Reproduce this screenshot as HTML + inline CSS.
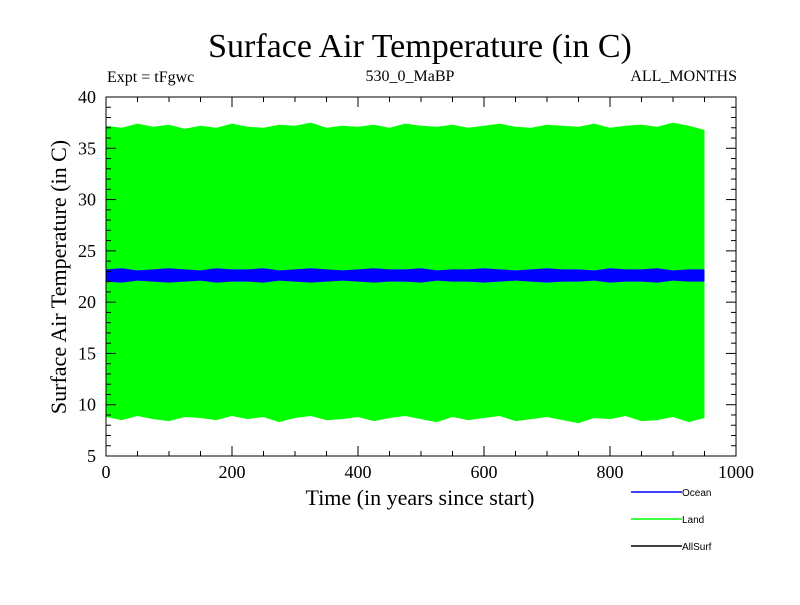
<!DOCTYPE html>
<html><head><meta charset="utf-8"><style>
body{margin:0;background:#fff;width:800px;height:600px;overflow:hidden}
svg text{font-family:"Liberation Serif",serif;fill:#000}
</style></head><body>
<svg id="chart" width="800" height="600">
<text x="420" y="57" font-size="34" text-anchor="middle">Surface Air Temperature (in C)</text>
<text x="107" y="82" font-size="16">Expt = tFgwc</text>
<text x="410" y="81" font-size="16" text-anchor="middle">530_0_MaBP</text>
<text x="737" y="81" font-size="16" text-anchor="end">ALL_MONTHS</text>
<g id="plot"></g>
<g id="axes"></g>
<text x="420" y="505" font-size="22" text-anchor="middle">Time (in years since start)</text>
<text transform="translate(66,277) rotate(-90)" font-size="22" text-anchor="middle">Surface Air Temperature (in C)</text>
<g>
<g><line x1="631" y1="492" x2="682" y2="492" stroke="#0000ff" stroke-width="1.5"/><text x="682" y="496" font-size="10" style="font-family:'Liberation Sans',sans-serif">Ocean</text></g>
<g><line x1="631" y1="519" x2="682" y2="519" stroke="#00ff00" stroke-width="1.5"/><text x="682" y="523" font-size="10" style="font-family:'Liberation Sans',sans-serif">Land</text></g>
<g><line x1="631" y1="546" x2="682" y2="546" stroke="#000" stroke-width="1.5"/><text x="682" y="550" font-size="10" style="font-family:'Liberation Sans',sans-serif">AllSurf</text></g>
</g>
</svg>
<script>
const years=[0,25,50,75,100,125,150,175,200,225,250,275,300,325,350,375,400,425,450,475,500,525,550,575,600,625,650,675,700,725,750,775,800,825,850,875,900,925,950];
const landMax=[37.2,37.0,37.4,37.1,37.3,36.9,37.2,37.0,37.4,37.1,37.0,37.3,37.2,37.5,37.0,37.2,37.1,37.3,37.0,37.4,37.2,37.1,37.3,37.0,37.2,37.4,37.1,37.0,37.3,37.2,37.1,37.4,37.0,37.2,37.3,37.1,37.5,37.2,36.8];
const landMin=[8.8,8.5,8.9,8.6,8.4,8.8,8.7,8.5,8.9,8.6,8.8,8.3,8.7,8.9,8.5,8.6,8.8,8.4,8.7,8.9,8.6,8.3,8.8,8.5,8.7,8.9,8.4,8.6,8.8,8.5,8.2,8.7,8.6,8.9,8.4,8.5,8.8,8.3,8.7];
const oceanMax=[23.2,23.3,23.1,23.2,23.3,23.2,23.1,23.3,23.2,23.2,23.3,23.1,23.2,23.3,23.2,23.1,23.2,23.3,23.2,23.2,23.3,23.1,23.2,23.2,23.3,23.2,23.1,23.2,23.3,23.2,23.2,23.1,23.3,23.2,23.2,23.3,23.1,23.2,23.2];
const oceanMin=[22.0,21.9,22.1,22.0,21.9,22.0,22.1,21.9,22.0,22.0,21.9,22.1,22.0,21.9,22.0,22.1,22.0,21.9,22.0,22.0,21.9,22.1,22.0,22.0,21.9,22.0,22.1,22.0,21.9,22.0,22.0,22.1,21.9,22.0,22.0,21.9,22.1,22.0,22.0];
const xTicks=[0,200,400,600,800,1000];
const yTicks=[5,10,15,20,25,30,35,40];
const X0=106,X1=736,Y0=456,Y1=97;
const sx=v=>X0+(v-0)/(1000-0)*(X1-X0);
const sy=v=>Y0-(v-5)/(40-5)*(Y0-Y1);
const NS="http://www.w3.org/2000/svg";
const plot=document.getElementById('plot'),axes=document.getElementById('axes');
function band(maxA,minA,color,name){
  let pts=years.map((y,i)=>sx(y)+','+sy(maxA[i]));
  for(let i=years.length-1;i>=0;i--)pts.push(sx(years[i])+','+sy(minA[i]));
  const p=document.createElementNS(NS,'polygon');
  p.setAttribute('points',pts.join(' '));p.setAttribute('fill',color);
  
  
  plot.appendChild(p);
}
band(landMax,landMin,'#00ff00','land-series');
band(oceanMax,oceanMin,'#0000ff','ocean-series');
const r=document.createElementNS(NS,'rect');
r.setAttribute('x',X0);r.setAttribute('y',Y1);r.setAttribute('width',X1-X0);r.setAttribute('height',Y0-Y1);
r.setAttribute('fill','none');r.setAttribute('stroke','#000');


axes.appendChild(r);
function ln(x1,y1,x2,y2){const l=document.createElementNS(NS,'line');l.setAttribute('x1',x1);l.setAttribute('y1',y1);l.setAttribute('x2',x2);l.setAttribute('y2',y2);l.setAttribute('stroke','#000');


axes.appendChild(l);}
for(let v=0;v<=1000;v+=50){const x=sx(v),L=v%200===0?10:5;ln(x,Y0,x,Y0-L);ln(x,Y1,x,Y1+L);}
for(let v=5;v<=40;v+=1){const y=sy(v),L=v%5===0?10:5;ln(X0,y,X0+L,y);ln(X1,y,X1-L,y);}
xTicks.forEach(v=>{const t=document.createElementNS(NS,'text');t.setAttribute('x',sx(v));t.setAttribute('y',Y0+22);t.setAttribute('font-size','18');t.setAttribute('text-anchor','middle');t.textContent=v;


axes.appendChild(t);});
yTicks.forEach(v=>{const t=document.createElementNS(NS,'text');t.setAttribute('x',X0-10);t.setAttribute('y',sy(v)+6);t.setAttribute('font-size','18');t.setAttribute('text-anchor','end');t.textContent=v;


axes.appendChild(t);});
</script>
</body></html>
